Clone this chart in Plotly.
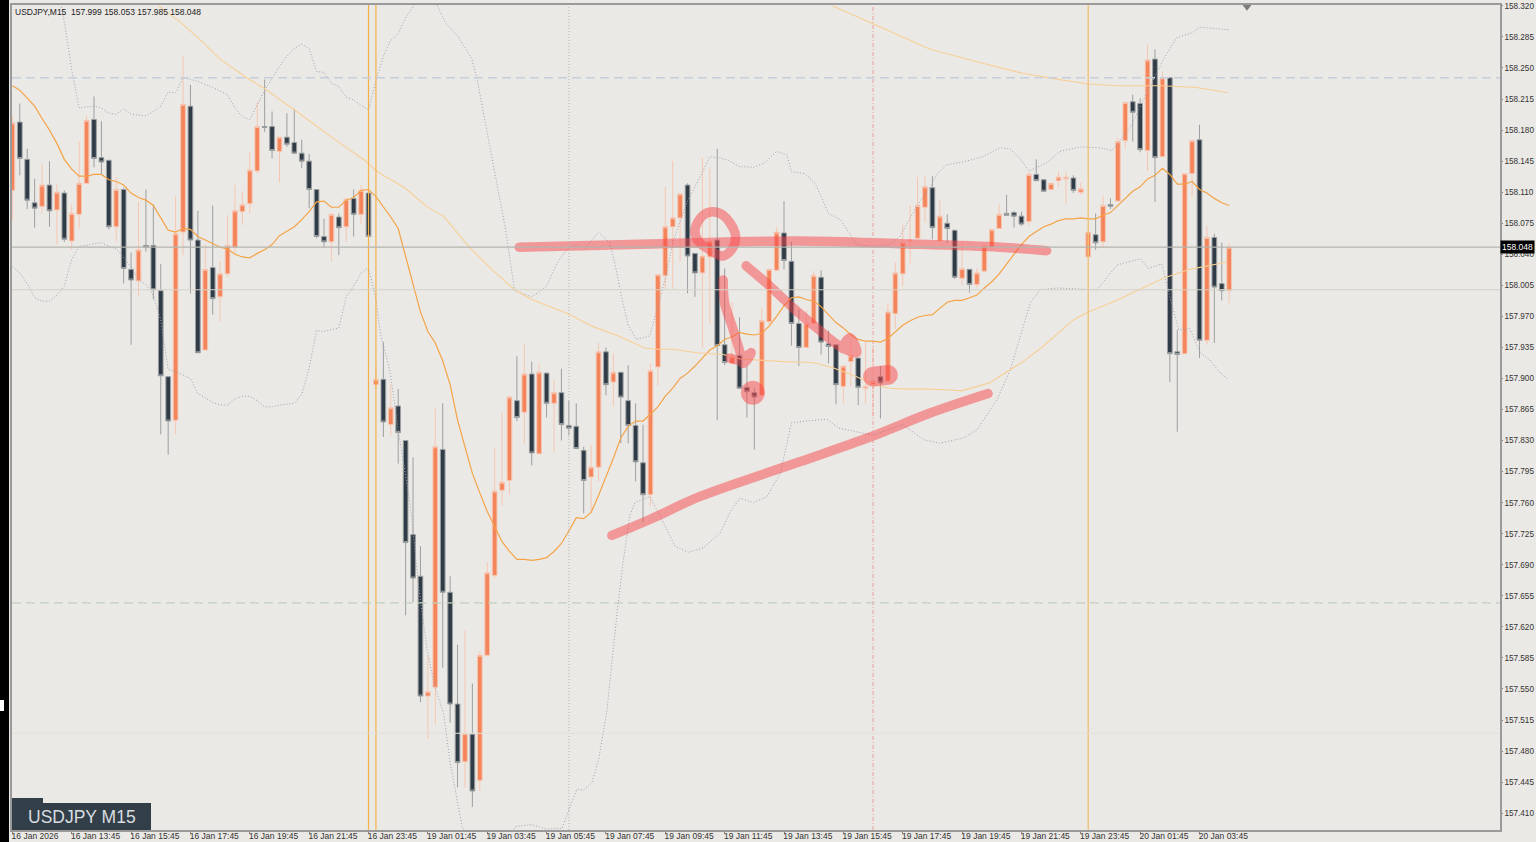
import plotly.graph_objects as go

open_ = [158.112,158.189,158.147,158.098,158.094,158.118,158.090,158.109,158.055,158.085,
158.120,158.192,158.149,158.146,158.071,158.113,158.023,158.010,158.050,158.050,
157.999,157.902,157.853,158.065,158.207,158.056,157.932,158.025,157.992,158.018,
158.048,158.088,158.097,158.134,158.184,158.184,158.156,158.172,158.166,158.154,
158.145,158.113,158.060,158.054,158.082,158.071,158.103,158.085,158.109,
157.893,157.899,157.848,157.869,157.830,157.724,157.677,157.542,157.552,157.820,
157.659,157.533,157.468,157.499,157.447,157.588,157.678,157.774,157.785,157.875,
157.862,157.905,157.815,157.906,157.872,157.884,157.847,157.846,157.819,157.789,
157.800,157.930,157.896,157.907,157.875,157.847,157.805,157.769,
157.913,158.016,158.071,158.081,158.118,158.041,158.019,158.037,158.056,157.938,
157.917,157.926,157.890,157.884,157.881,157.964,158.022,158.064,158.032,157.962,
157.935,157.962,158.014,157.939,157.938,157.891,157.919,157.923,157.889,157.893,
157.902,157.897,157.973,158.018,158.055,158.058,158.093,158.115,
158.055,158.075,158.067,158.013,158.023,158.006,158.021,158.048,158.069,158.086,
158.087,158.083,158.077,158.130,158.124,158.113,158.123,158.125,158.126,158.110,
158.037,158.062,158.054,158.096,158.100,158.168,158.212,158.210,158.157,158.260,
158.150,158.239,157.930,157.928,158.131,158.169,157.943,158.059,158.007,157.999]

high = [158.196,158.210,158.159,158.125,158.142,158.145,158.119,158.112,158.096,158.167,
158.196,158.218,158.190,158.146,158.127,158.115,158.042,158.099,158.113,158.096,
158.029,157.902,158.105,158.263,158.231,158.089,158.051,158.095,158.032,158.084,
158.118,158.111,158.155,158.212,158.237,158.201,158.172,158.199,158.204,158.169,
158.153,158.113,158.080,158.086,158.086,158.104,158.113,158.118,158.131,
157.914,157.941,157.893,157.888,157.830,157.811,157.711,157.587,157.866,157.872,
157.677,157.600,157.616,157.556,157.592,157.693,157.822,157.861,157.881,157.925,
157.939,157.919,157.917,157.907,157.899,157.911,157.875,157.872,157.823,157.825,
157.940,157.935,157.928,157.907,157.915,157.872,157.848,157.917,
158.017,158.116,158.145,158.108,158.120,158.041,158.149,158.138,158.159,158.024,
157.986,157.969,157.914,157.889,157.980,158.023,158.071,158.100,158.054,157.978,
157.977,158.021,158.022,157.954,157.938,157.914,157.942,157.923,157.942,157.936,
157.914,157.984,158.031,158.073,158.095,158.127,158.128,158.128,
158.101,158.085,158.068,158.054,158.023,158.024,158.050,158.068,158.096,158.107,
158.089,158.088,158.133,158.147,158.124,158.120,158.133,158.133,158.129,158.121,
158.065,158.086,158.106,158.103,158.171,158.211,158.220,158.216,158.276,158.271,
158.246,158.239,157.955,158.131,158.168,158.186,158.072,158.063,158.053,158.053]

low = [158.078,158.129,158.091,158.070,158.086,158.071,158.051,158.054,158.045,158.069,
158.119,158.138,158.130,158.068,158.054,158.007,157.938,157.992,158.043,157.989,
157.837,157.814,157.837,158.039,157.996,157.929,157.932,157.972,157.964,158.014,
158.039,158.073,158.086,158.131,158.178,158.148,158.121,158.161,158.153,158.137,
158.092,158.058,158.048,158.032,158.039,158.054,158.060,158.074,158.051,
157.889,157.834,157.836,157.804,157.633,157.648,157.535,157.494,157.510,157.574,
157.512,157.439,157.439,157.417,157.435,157.588,157.675,157.757,157.769,157.852,
157.826,157.802,157.815,157.856,157.816,157.830,157.836,157.821,157.748,157.750,
157.784,157.881,157.869,157.827,157.827,157.784,157.738,157.756,
157.892,158.001,158.001,158.032,157.996,157.992,157.935,157.962,157.853,157.915,
157.917,157.889,157.856,157.820,157.881,157.959,158.022,158.023,157.937,157.914,
157.935,157.962,157.927,157.917,157.871,157.872,157.891,157.870,157.872,157.857,
157.855,157.897,157.956,158.004,158.030,158.058,158.076,158.057,
158.055,158.053,158.012,158.005,157.997,158.002,158.021,158.045,158.069,158.084,
158.070,158.072,158.072,158.123,158.111,158.112,158.116,158.097,158.109,158.107,
158.037,158.045,158.048,158.091,158.100,158.159,158.167,158.155,158.134,158.099,
158.150,157.896,157.840,157.928,158.104,157.923,157.938,157.940,157.988,157.985]

close = [158.188,158.148,158.101,158.092,158.118,158.089,158.110,158.057,158.086,158.120,
158.191,158.148,158.144,158.071,158.113,158.024,158.011,158.045,158.048,158.000,
157.903,157.852,158.063,158.209,158.056,157.929,158.023,157.990,158.018,158.050,
158.089,158.096,158.135,158.184,158.183,158.157,158.172,158.164,158.154,158.145,
158.113,158.060,158.054,158.085,158.070,158.102,158.085,158.112,158.060,
157.899,157.851,157.867,157.839,157.715,157.675,157.542,157.547,157.823,157.659,
157.533,157.467,157.500,157.435,157.588,157.681,157.773,157.783,157.879,157.856,
157.905,157.816,157.907,157.872,157.884,157.848,157.844,157.821,157.785,157.800,
157.930,157.893,157.907,157.879,157.847,157.806,157.769,157.909,
158.017,158.071,158.081,158.108,158.038,158.019,158.038,158.055,157.937,157.918,
157.925,157.889,157.885,157.879,157.965,158.023,158.065,158.033,157.962,157.935,
157.962,158.016,157.941,157.936,157.893,157.914,157.926,157.890,157.891,157.897,
157.895,157.975,158.019,158.053,158.056,158.095,158.116,158.070,
158.083,158.069,158.014,158.024,158.006,158.019,158.050,158.068,158.085,158.084,
158.083,158.074,158.130,158.123,158.111,158.120,158.127,158.127,158.112,158.114,
158.065,158.053,158.095,158.094,158.167,158.211,158.200,158.158,158.259,158.149,
158.239,157.928,157.927,158.131,158.168,157.943,158.059,158.003,157.999,158.048]

ma_mid = [158.230,158.225,158.216,158.207,158.193,158.180,158.165,158.147,158.136,158.128,
158.128,158.130,158.130,158.124,158.122,158.118,158.109,158.104,158.101,158.095,
158.081,158.067,158.065,158.069,158.068,158.060,158.056,158.052,158.048,158.046,
158.040,158.037,158.036,158.041,158.045,158.051,158.061,158.066,158.071,158.079,
158.088,158.099,158.100,158.093,158.093,158.101,158.104,158.112,158.113,
158.105,158.094,158.082,158.069,158.037,158.005,157.975,157.953,157.940,157.920,
157.893,157.853,157.823,157.793,157.771,157.750,157.733,157.716,157.705,157.696,
157.696,157.695,157.696,157.698,157.705,157.714,157.728,157.743,157.742,157.749,
157.768,157.788,157.810,157.833,157.846,157.852,157.852,157.860,157.868,
157.880,157.889,157.900,157.906,157.914,157.923,157.932,157.937,157.944,157.947,
157.952,157.950,157.949,157.951,157.959,157.970,157.982,157.991,157.992,157.989,
157.987,157.981,157.972,157.963,157.957,157.949,157.944,157.942,157.942,157.941,
157.945,157.953,157.960,157.965,157.969,157.971,157.972,157.979,
157.986,157.988,157.988,157.991,157.994,158.002,158.009,158.018,158.029,158.041,
158.051,158.060,158.066,158.071,158.074,158.078,158.080,158.080,158.081,158.080,
158.080,158.084,158.087,158.095,158.103,158.111,158.116,158.125,158.129,158.137,
158.130,158.119,158.119,158.122,158.113,158.109,158.103,158.098,158.095]

ma_slow_idx = [19.7,22.6,25.3,28,31.6,34.3,37.8,41,44.2,46.8,47.5,48.9,50.2,52.9,55.8,58.1,61.7,64.6,67.7,70,74.9,78.1,81.7,85.3,87,
               89.1,92.2,95.8,98.1,103.9,107.9,110.6,113.8,116,118.3,120.5,123.7,126.4,127.9,131.7,
               136.2,138.9,143,145,148.8,155.1,158.7,163.6]
ma_slow = [158.320,158.302,158.282,158.260,158.239,158.225,158.204,158.184,158.165,158.150,158.146,158.135,158.128,158.115,158.094,
           158.083,158.047,158.023,158.000,157.989,157.973,157.959,157.948,157.934,157.933,157.933,157.929,157.927,157.922,157.919,157.918,
           157.912,157.902,157.893,157.889,157.888,157.888,157.887,157.886,157.895,157.919,157.936,157.966,
           157.975,157.988,158.013,158.023,158.031]

ma_long_idx = [110.6,123.7,130,136.2,140.3,145,148.8,155.1,159.6,163.8]
ma_long = [158.320,158.271,158.257,158.244,158.238,158.232,158.230,158.230,158.228,158.222]

bb_up_idx = [6.6,7.1,8,9,11,12,13,14,15,16,18,19,20,21,22,23,25,27,29,30,31,32,33,34,35,36,37,38,39,40,41,42,43,44,45,46,47,48,
             49.1,50,50.9,52,53.1,54.1,55,56.5,57.3,58.3,60.1,61.9,62.6,63.9,65.3,66.4,67.7,70,72,73.4,74.9,76,77.2,79,80.5,81.2,82.1,83,84.1,85.9,87,88,
             89.1,90.9,92.9,94,
             95.2,96.5,97.9,99.9,101.4,103,104.4,105,106.8,108.2,110,111.6,113.8,116,118.3,119.6,121.9,123.7,124.6,125.9,128.1,130.8,
             133.1,134.4,135.8,137,139.4,141.2,143.9,146.6,148.2,149,150.6,152.9,155.1,156.9,159.1,160,164]
bb_up = [158.319,158.297,158.248,158.205,158.207,158.205,158.199,158.198,158.204,158.198,158.196,158.201,158.207,158.223,158.222,
         158.239,158.235,158.228,158.220,158.205,158.195,158.192,158.208,158.225,158.238,158.252,158.263,158.272,158.277,158.272,
         158.246,158.245,158.233,158.229,158.217,158.214,158.208,158.203,
         158.239,158.263,158.280,158.289,158.308,158.320,158.335,158.335,158.320,158.302,158.285,158.261,158.239,158.182,158.117,158.071,
         157.999,157.992,158.004,158.030,158.047,158.051,158.047,158.065,158.053,158.030,157.992,157.960,157.944,157.948,157.981,158.013,
         158.056,158.098,158.131,158.150,
         158.149,158.146,158.139,158.138,158.143,158.156,158.152,158.133,158.131,158.120,158.086,158.079,158.051,158.049,158.051,
         158.060,158.094,158.116,158.130,158.141,158.144,158.150,158.160,158.159,158.148,158.134,158.143,158.156,158.161,158.160,
         158.157,158.165,158.182,158.222,158.259,158.284,158.290,158.296,158.293]

bb_lo_idx = [0,1,2,3,4,5,6,7,8,9,10,11,12,13,14,15,16,17,18,19,20,21,22,23,24,25,26,27,28,29,30,31,32,33,34,35,36,37,38,39,40,41,42,43,44,
             45,46,47,48,49,49.6,50.9,52,53.6,54.8,55.9,57,58.1,59,60.6,61.7,66.7,67.8,70,72,74.1,75,76.1,77,78.1,79,80.1,81.5,
             82.3,83.2,83.9,85.9,87.3,89.3,91.1,93.1,95.4,96.9,98.1,99.9,101.7,103.5,104.4,105,
             106.9,109.8,111.4,113.8,116,120,122.8,125,128.2,130,132.7,134.5,135.8,137.2,138.5,
             140.8,143.5,146.2,148.9,152,153.1,154.9,156,157.2,158.7,160.1,161.4,162.8,163.9]
bb_lo = [158.026,158.019,158.007,157.991,157.987,157.987,157.994,158.004,158.034,158.049,158.050,158.052,158.053,158.049,158.046,158.036,
         158.026,158.011,158.006,157.994,157.966,157.910,157.908,157.904,157.900,157.883,157.878,157.873,157.870,157.870,157.877,157.880,
         157.880,157.875,157.868,157.868,157.870,157.871,157.872,157.882,157.912,157.954,157.953,157.955,157.957,157.992,158.004,158.019,
         158.025,157.989,157.951,157.908,157.842,157.760,157.662,157.594,157.551,157.523,157.467,157.395,157.380,157.380,157.395,157.397,
         157.392,157.393,157.414,157.437,157.436,157.444,157.470,157.523,157.636,
         157.692,157.745,157.760,157.767,157.745,157.711,157.704,157.709,157.726,157.752,157.765,157.760,157.767,157.793,157.827,157.850,
         157.852,157.854,157.844,157.840,157.836,157.848,157.831,
         157.827,157.833,157.842,157.876,157.910,157.947,157.985,158.000,158.002,158.001,158.000,158.028,158.035,158.024,158.029,157.992,
         157.955,157.956,157.929,157.921,157.906,157.899]

stroke_h_idx = [68.3,87.3,106.1,119.6,133.1,139.4]
stroke_h = [158.048,158.052,158.055,158.052,158.048,158.044]
stroke_trend_idx = [80.8,85.9,92.7,106.1,115.6,123.7,131.5]
stroke_trend = [157.723,157.741,157.767,157.806,157.834,157.861,157.883]
stroke_ring_idx = [92,93.1,94.3,95.8,97.4,97.2,95.8,94,92.5,92]
stroke_ring = [158.068,158.084,158.088,158.084,158.064,158.049,158.038,158.045,158.054,158.068]
stroke_a_idx = [95.8,96,97,98.1,98.5,99.6,98.1,96.7]
stroke_a = [158.011,157.985,157.959,157.929,157.917,157.929,157.921,157.923]
stroke_b_idx = [98.9,102.1,105.3,108.4,111.6,113.8,112.9,111.9,113.5]
stroke_b = [158.027,158.004,157.979,157.957,157.936,157.929,157.946,157.934,157.935]
stroke_blob_idx = [116.0,118.0]
stroke_blob = [157.902,157.904]
blob_idx = [99.8]
blob = [157.884]

y_tick_labels = ["158.320","158.285","158.250","158.215","158.180","158.145","158.110","158.075","158.040","158.005",
                 "157.970","157.935","157.900","157.865","157.830","157.795","157.760","157.725","157.690","157.655",
                 "157.620","157.585","157.550","157.515","157.480","157.445","157.410"]
x_tick_labels = ["16 Jan 2026","16 Jan 13:45","16 Jan 15:45","16 Jan 17:45","16 Jan 19:45","16 Jan 21:45","16 Jan 23:45",
                 "19 Jan 01:45","19 Jan 03:45","19 Jan 05:45","19 Jan 07:45","19 Jan 09:45","19 Jan 11:45","19 Jan 13:45",
                 "19 Jan 15:45","19 Jan 17:45","19 Jan 19:45","19 Jan 21:45","19 Jan 23:45","20 Jan 01:45","20 Jan 03:45"]
x_tick_idx = list(range(0, 161, 8))

BG = "#ebe9e5"
FONT = "Liberation Sans"
idx = list(range(len(close)))
fig = go.Figure()

fig.add_trace(go.Candlestick(
    x=idx, open=open_, high=high, low=low, close=close, hoverinfo="skip",
    increasing=dict(line=dict(color="#f6c6b2", width=1), fillcolor="#f4845a"),
    decreasing=dict(line=dict(color="#9b9fa1", width=1), fillcolor="#2f3b46"),
))
dotted = dict(color="#9f9fb2", width=1, dash="1px,2px")
fig.add_trace(go.Scatter(x=bb_up_idx, y=bb_up, mode="lines", line=dotted, hoverinfo="skip"))
fig.add_trace(go.Scatter(x=bb_lo_idx, y=bb_lo, mode="lines", line=dotted, hoverinfo="skip"))
fig.add_trace(go.Scatter(x=idx, y=ma_mid, mode="lines", line=dict(color="#f4a347", width=1.2), hoverinfo="skip"))
fig.add_trace(go.Scatter(x=ma_slow_idx, y=ma_slow, mode="lines", line=dict(color="#f7cf96", width=1.1), hoverinfo="skip"))
fig.add_trace(go.Scatter(x=ma_long_idx, y=ma_long, mode="lines", line=dict(color="#f7cf96", width=1.1), hoverinfo="skip"))

pink = "rgba(248,70,75,0.5)"
for sx, sy in [(stroke_h_idx, stroke_h), (stroke_trend_idx, stroke_trend), (stroke_ring_idx, stroke_ring),
               (stroke_a_idx, stroke_a), (stroke_b_idx, stroke_b)]:
    fig.add_trace(go.Scatter(x=sx, y=sy, mode="lines", line=dict(color=pink, width=9.5, shape="spline"), hoverinfo="skip"))
fig.add_trace(go.Scatter(x=stroke_blob_idx, y=stroke_blob, mode="lines", line=dict(color=pink, width=20), hoverinfo="skip"))
fig.add_trace(go.Scatter(x=blob_idx, y=blob, mode="markers", marker=dict(color=pink, size=24, line=dict(width=0)), hoverinfo="skip"))

for v, c, w in [(48, "#f5b04a", 1.2), (49, "#f5b04a", 1.2), (145, "#efc27a", 1.4)]:
    fig.add_vline(x=v, line=dict(color=c, width=w))
fig.add_vline(x=75, line=dict(color="#b5b5b5", width=1, dash="1px,2px"))
fig.add_vline(x=116, line=dict(color="#eb9c9c", width=1, dash="4px,2px,1px,2px"))
fig.add_hline(y=158.239, line=dict(color="#c5cfdc", width=1.4, dash="9px,5px"))
fig.add_hline(y=157.647, line=dict(color="#c0d0bd", width=1.4, dash="9px,5px"))
fig.add_hline(y=158.048, line=dict(color="#b4b4ae", width=1.2))
fig.add_hline(y=158.000, line=dict(color="#d4d1c8", width=1))
fig.add_hline(y=157.500, line=dict(color="#e2e0da", width=1))

# chart furniture in paper coordinates
PW, PH = 1488.0, 825.0
fig.add_shape(type="rect", xref="paper", yref="paper", x0=-12/PW, x1=-3/PW, y0=-12/PH, y1=1+5/PH,
              fillcolor="#000000", line_width=0)
fig.add_shape(type="rect", xref="paper", yref="paper", x0=-12/PW, x1=-8/PW, y0=(830-711)/PH, y1=(830-700)/PH,
              fillcolor="#ffffff", line_width=0)
fig.add_shape(type="rect", xref="paper", yref="paper", x0=0, x1=139/PW, y0=0, y1=27/PH,
              fillcolor="#323e48", line_width=0)
fig.add_shape(type="rect", xref="paper", yref="paper", x0=0, x1=31/PW, y0=27/PH, y1=32/PH,
              fillcolor="#323e48", line_width=0)
fig.add_annotation(xref="paper", yref="paper", x=14/PW, y=13.5/PH, xanchor="left", yanchor="middle", showarrow=False,
                   text="USDJPY M15", font=dict(family=FONT, size=17.5, color="#d9dde0"))
fig.add_annotation(xref="paper", yref="paper", x=1/PW, y=1-7.5/PH, xanchor="left", yanchor="middle", showarrow=False,
                   text="USDJPY,M15  157.999 158.053 157.985 158.048", font=dict(family=FONT, size=8.5, color="#222222"))
fig.add_annotation(xref="paper", yref="y", x=1, y=158.048, xanchor="left", yanchor="middle", showarrow=False,
                   text="158.048", bgcolor="#000000", borderpad=1, font=dict(family=FONT, size=8.5, color="#ffffff"))
fig.add_trace(go.Scatter(x=[166.4], y=[158.319], mode="markers", hoverinfo="skip",
                         marker=dict(symbol="triangle-down", size=8, color="#7d7d7d")))

fig.update_layout(
    width=1536, height=842, margin=dict(l=12, r=36, t=5, b=12, pad=0, autoexpand=False),
    paper_bgcolor=BG, plot_bgcolor=BG, showlegend=False, hovermode=False, boxgap=0.1,
    font=dict(family=FONT, size=8.5, color="#333333"),
    xaxis=dict(range=[-0.05, 200.5], rangeslider=dict(visible=False), showgrid=False, zeroline=False, automargin=False,
               tickmode="array", tickvals=x_tick_idx, ticktext=x_tick_labels, ticks="outside", ticklen=2,
               tickcolor="#808080", ticklabelposition="outside right", tickangle=0,
               ticklabelstandoff=-3, ticklabelshift=-2,
               showline=True, mirror=True, linecolor="#9a9a9a", linewidth=1.5),
    yaxis=dict(range=[157.391, 158.321], side="right", showgrid=False, zeroline=False, automargin=False,
               tickmode="array", tickvals=[float(t) for t in y_tick_labels], ticktext=y_tick_labels,
               ticks="outside", ticklen=1, tickcolor="#808080",
               tickfont=dict(family=FONT, size=8.2, color="#333333"),
               showline=True, mirror=True, linecolor="#9a9a9a", linewidth=1.5),
)

post = """
document.body.style.margin='0';
document.querySelectorAll('.js-line').forEach(function(p){
  if(parseFloat(p.style.strokeWidth)>=6){p.style.strokeLinecap='round';}
});
"""
fig.write_html("out.html", post_script=post, config=dict(displayModeBar=False))
